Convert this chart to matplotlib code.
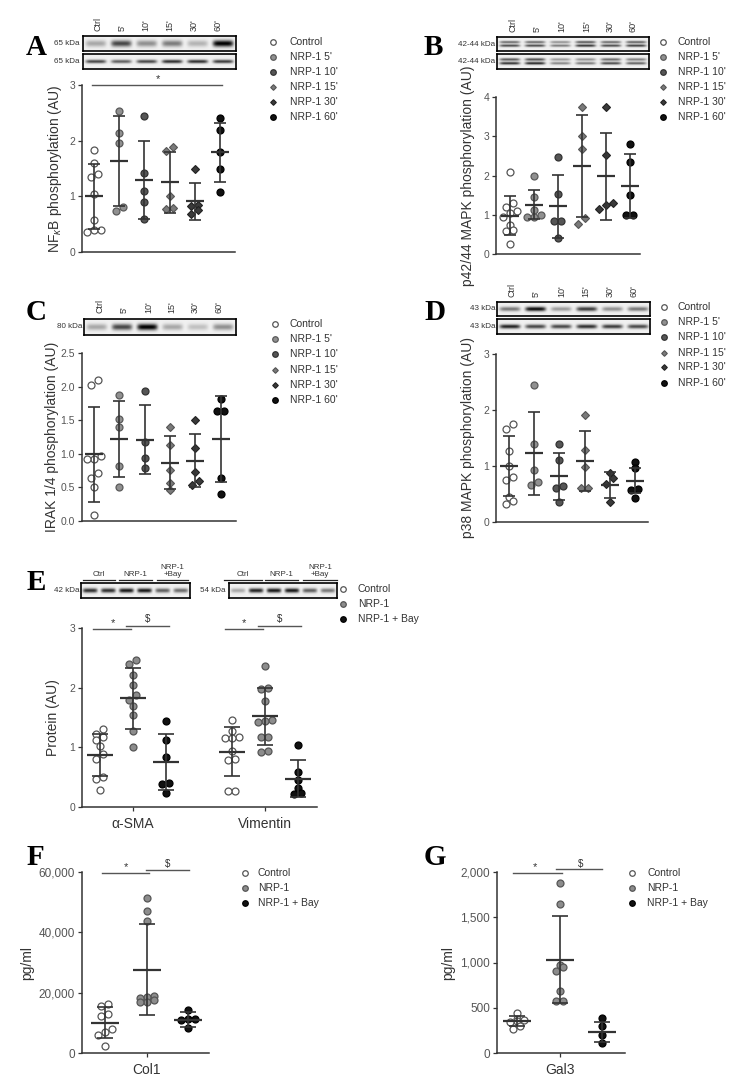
import numpy as np
import matplotlib
matplotlib.use("Agg")
import matplotlib.pyplot as plt
from matplotlib.lines import Line2D

plt.rcParams['font.family'] = ['Liberation Sans', 'DejaVu Sans']
plt.rcParams['mathtext.fontset'] = 'custom'
plt.rcParams['mathtext.rm'] = 'Liberation Sans'
plt.rcParams['mathtext.it'] = 'Liberation Sans:italic'

# ---------------- data ----------------
time_labels = ["Ctrl", "5'", "10'", "15'", "30'", "60'"]
time_legend = ["Control", "NRP-1 5'", "NRP-1 10'", "NRP-1 15'", "NRP-1 30'", "NRP-1 60'"]
treat_legend = ["Control", "NRP-1", "NRP-1 + Bay"]

# A: NFkB
A_ctrl = [1.84, 1.60, 1.40, 1.34, 1.04, 0.58, 0.40, 0.40, 0.36]
A_5 = [2.53, 2.13, 1.95, 0.81, 0.74]
A_10 = [2.44, 1.42, 1.10, 0.90, 0.60]
A_15 = [1.88, 1.82, 1.00, 0.79, 0.78]
A_30 = [1.49, 0.85, 0.82, 0.75, 0.68]
A_60 = [2.40, 2.19, 1.80, 1.49, 1.07]
A_mean = [1.00, 1.63, 1.29, 1.25, 0.91, 1.79]
A_sd = [0.58, 0.81, 0.70, 0.55, 0.33, 0.53]

# B: p42/44
B_ctrl = [2.10, 1.30, 1.20, 1.10, 1.05, 0.95, 0.75, 0.62, 0.58, 0.25]
B_5 = [2.00, 1.45, 1.12, 1.00, 0.95, 0.93]
B_10 = [2.47, 1.52, 0.85, 0.85, 0.42]
B_15 = [3.74, 3.00, 2.68, 0.91, 0.77]
B_30 = [3.74, 2.51, 1.29, 1.25, 1.15]
B_60 = [2.80, 2.35, 1.50, 1.00, 1.00]
B_mean = [0.98, 1.26, 1.22, 2.24, 1.98, 1.73]
B_sd = [0.49, 0.38, 0.80, 1.30, 1.11, 0.81]

# C: IRAK 1/4
C_ctrl = [2.10, 2.02, 0.96, 0.92, 0.92, 0.71, 0.64, 0.50, 0.09]
C_5 = [1.87, 1.52, 1.40, 0.82, 0.51]
C_10 = [1.94, 1.18, 0.94, 0.79]
C_15 = [1.40, 1.13, 0.76, 0.57, 0.46]
C_30 = [1.50, 1.08, 0.73, 0.60, 0.54]
C_60 = [1.81, 1.64, 1.64, 0.64, 0.40]
C_mean = [0.99, 1.22, 1.21, 0.87, 0.90, 1.22]
C_sd = [0.71, 0.56, 0.51, 0.40, 0.40, 0.64]

# D: p38
D_ctrl = [1.75, 1.66, 1.27, 1.00, 0.80, 0.75, 0.44, 0.38, 0.32]
D_5 = [2.45, 1.40, 0.92, 0.72, 0.66]
D_10 = [1.40, 1.11, 0.65, 0.61, 0.35]
D_15 = [1.91, 1.29, 0.99, 0.61, 0.61]
D_30 = [0.87, 0.78, 0.68, 0.35]
D_60 = [1.07, 0.96, 0.59, 0.58, 0.43]
D_mean = [1.00, 1.23, 0.82, 1.09, 0.66, 0.74]
D_sd = [0.53, 0.74, 0.42, 0.53, 0.23, 0.23]

# E: protein
E_categories = ["\u03b1-SMA", "Vimentin"]
E_ctrl_sma = [1.30, 1.22, 1.18, 1.12, 1.02, 0.88, 0.80, 0.50, 0.47, 0.28]
E_nrp_sma = [2.47, 2.39, 2.22, 2.05, 1.88, 1.80, 1.70, 1.54, 1.27, 1.01]
E_bay_sma = [1.44, 1.12, 0.83, 0.41, 0.39, 0.23]
E_ctrl_vim = [1.46, 1.28, 1.18, 1.16, 1.16, 0.94, 0.80, 0.78, 0.26, 0.26]
E_nrp_vim = [2.36, 1.99, 1.98, 1.77, 1.45, 1.44, 1.42, 1.18, 1.17, 0.94, 0.93]
E_bay_vim = [1.04, 0.59, 0.46, 0.32, 0.23, 0.21]
E_mean_sma = [0.87, 1.82, 0.75]
E_sd_sma = [0.35, 0.51, 0.47]
E_mean_vim = [0.93, 1.52, 0.47]
E_sd_vim = [0.41, 0.48, 0.31]

# F: Col1 (pg/ml)
F_ctrl = [16250, 15470, 13040, 12150, 7960, 6960, 6080, 2210]
F_nrp = [51400, 47200, 43900, 18800, 18500, 18200, 17700, 17000, 16800]
F_bay = [14100, 11300, 11200, 11100, 8300]
F_mean = [10100, 27600, 11050]
F_sd = [5000, 15100, 2400]

# G: Gal3 (pg/ml)
G_ctrl = [446, 375, 368, 350, 345, 300, 270]
G_nrp = [1882, 1650, 976, 950, 902, 685, 575, 575]
G_bay = [387, 295, 203, 110]
G_mean = [354, 1031, 232]
G_sd = [51, 483, 110]

# blot band intensities (per lane)
blotA_top = [0.3, 0.7, 0.4, 0.48, 0.25, 1.0]
blotA_bot = [0.7, 0.6, 0.7, 0.8, 0.8, 0.75]
blotB_top = [0.7, 0.7, 0.5, 0.8, 0.7, 0.75]
blotB_bot = [0.8, 0.85, 0.45, 0.5, 0.7, 0.6]
blotC = [0.3, 0.7, 1.0, 0.3, 0.2, 0.4]
blotD_top = [0.5, 0.95, 0.35, 0.75, 0.4, 0.5]
blotD_bot = [0.85, 0.7, 0.7, 0.8, 0.75, 0.7]
blotE_sma = [0.8, 0.8, 0.9, 0.9, 0.6, 0.55]
blotE_vim = [0.3, 0.85, 0.9, 0.9, 0.6, 0.5]

# ---------------- figure helpers ----------------
W, H = 747, 1087
fig = plt.figure(figsize=(W / 100, H / 100), dpi=100)

TXT = '#333333'
LINE = '#333333'


def frect(x0, y0, x1, y1):
    return [x0 / W, 1 - y1 / H, (x1 - x0) / W, (y1 - y0) / H]


def fx(x):
    return x / W


def fy(y):
    return 1 - y / H


ST_TIME = [
    dict(marker='o', mfc='white', mec='#555555', mew=0.9, ms=5),
    dict(marker='o', mfc='#909090', mec='#5a5a5a', mew=0.9, ms=5),
    dict(marker='o', mfc='#555555', mec='#333333', mew=0.9, ms=5),
    dict(marker='D', mfc='#7a7a7a', mec='#555555', mew=0.8, ms=3.6),
    dict(marker='D', mfc='#3a3a3a', mec='#222222', mew=0.8, ms=3.6),
    dict(marker='o', mfc='#111111', mec='#000000', mew=0.9, ms=5),
]
ST_TREAT = [
    dict(marker='o', mfc='white', mec='#555555', mew=0.9, ms=5),
    dict(marker='o', mfc='#8c8c8c', mec='#555555', mew=0.9, ms=5),
    dict(marker='o', mfc='#111111', mec='#000000', mew=0.9, ms=5),
]


def style_axes(ax, xlim, ylim, yticks, ytl, tfs=7.5):
    ax.set_xlim(xlim)
    ax.set_ylim(ylim)
    for s in ['top', 'right']:
        ax.spines[s].set_visible(False)
    for s in ['left', 'bottom']:
        ax.spines[s].set_color(LINE)
        ax.spines[s].set_linewidth(1.1)
    ax.set_yticks(yticks)
    ax.set_yticklabels(ytl)
    ax.tick_params(axis='y', length=3, width=0.9, color=LINE, labelsize=tfs,
                   labelcolor='#555555', pad=2)
    ax.set_xticks([])
    ax.patch.set_alpha(0)


def ppu_x(ax):
    t = ax.transData
    return t.transform((1, 0))[0] - t.transform((0, 0))[0]


def swarm_x(ax, xc, vals, diam=7.0, max_row=3):
    t = ax.transData
    ypx = np.array([t.transform((xc, v))[1] for v in vals])
    order = np.argsort(ypx)
    offs = np.zeros(len(vals))
    clusters, cur = [], []
    for i in order:
        if cur and (ypx[i] - ypx[cur[0]] >= 0.85 * diam or len(cur) >= max_row):
            clusters.append(cur)
            cur = []
        cur.append(i)
    if cur:
        clusters.append(cur)
    for cl in clusters:
        n = len(cl)
        for k, i in enumerate(cl):
            offs[i] = (k - (n - 1) / 2) * diam
    return xc + offs / ppu_x(ax)


def draw_group(ax, xc, vals, mean, sd, st, mean_hw=9, cap_hw=6):
    xs = swarm_x(ax, xc, vals)
    ax.plot(xs, vals, ls='none', clip_on=False, zorder=3, **st)
    p = ppu_x(ax)
    kw = dict(color=LINE, lw=1.2, zorder=4, solid_capstyle='butt', clip_on=False)
    ax.plot([xc, xc], [mean - sd, mean + sd], **kw)
    ax.plot([xc - cap_hw / p, xc + cap_hw / p], [mean + sd] * 2, **kw)
    ax.plot([xc - cap_hw / p, xc + cap_hw / p], [mean - sd] * 2, **kw)
    ax.plot([xc - mean_hw / p, xc + mean_hw / p], [mean] * 2,
            color=LINE, lw=1.6, zorder=4, solid_capstyle='butt', clip_on=False)


def legend(x_mk, x_txt, ys, labels, styles, fs=7.5):
    for y, lab, st in zip(ys, labels, styles):
        s = dict(st)
        s['ms'] = st['ms'] * 0.8
        fig.add_artist(Line2D([fx(x_mk)], [fy(y)], transform=fig.transFigure,
                              ls='none', **s))
        fig.text(fx(x_txt), fy(y), lab, fontsize=fs, va='center', ha='left', color=TXT)


def blot(x0, y0, x1, y1, lanes, double=False, bh=0.16):
    ax = fig.add_axes(frect(x0, y0, x1, y1))
    n = len(lanes)
    yy = np.linspace(0, 1, 40)[:, None]
    xx = np.linspace(0, 1, 400)[None, :]
    img = np.full((40, 400), 0.06)
    for i, inten in enumerate(lanes):
        cx = (i + 0.5) / n
        lane = np.exp(-((xx - cx) / (0.40 / n)) ** 6)
        if double:
            band = 0.8 * np.exp(-((yy - 0.36) / 0.09) ** 2) + np.exp(-((yy - 0.62) / 0.09) ** 2)
        else:
            band = np.exp(-((yy - 0.5) / bh) ** 2)
        img += inten * lane * band
    ax.imshow(img, cmap='gray_r', vmin=0, vmax=1.05, extent=(0, 1, 0, 1),
              aspect='auto', interpolation='bilinear')
    ax.set_xticks([])
    ax.set_yticks([])
    for s in ax.spines.values():
        s.set_color('black')
        s.set_linewidth(1.2)
    return ax


def kda(x, y, txt):
    fig.text(fx(x), fy(y), txt, fontsize=5.8, ha='right', va='center', color=TXT)


def lane_labels(xs, ybot, labels):
    for x, lab in zip(xs, labels):
        fig.text(fx(x), fy(ybot), lab, fontsize=6.5, rotation=90, ha='center',
                 va='bottom', color=TXT)


def panel_letter(x, y, letter):
    fig.text(fx(x), fy(y), letter, fontsize=21, fontweight='bold',
             family=['Liberation Serif', 'DejaVu Serif'], ha='left', va='baseline')


def ylabel(x, y, txt, fs=10):
    fig.text(fx(x), fy(y), txt, fontsize=fs, rotation=90, ha='center', va='center', color=TXT)


# ---------------- Panel A ----------------
panel_letter(26, 55, 'A')
blot(83, 36, 236, 51, blotA_top, bh=0.22)
blot(83, 54, 236, 69, blotA_bot, bh=0.12)
kda(80, 43.5, '65 kDa')
kda(80, 61.5, '65 kDa')
lane_labels([98, 122, 146, 170, 194, 218], 31, time_labels)
axA = fig.add_axes(frect(82, 85, 235, 252))
style_axes(axA, (-0.48, 5.6), (0, 3), [0, 1, 2, 3], ['0', '1', '2', '3'])
for i, vals in enumerate([A_ctrl, A_5, A_10, A_15, A_30, A_60]):
    draw_group(axA, i, vals, A_mean[i], A_sd[i], ST_TIME[i])
axA.plot([-0.08, 5.08], [3, 3], color='#555555', lw=1.0, clip_on=False)
axA.text(2.54, 3.01, '*', ha='center', va='bottom', fontsize=8, color=TXT)
ylabel(55, 169, r'NF$_{\kappa}$B phosphorylation (AU)')
legend(273, 290, [42, 57, 72, 87, 102, 117], time_legend, ST_TIME)

# ---------------- Panel B ----------------
panel_letter(424, 55, 'B')
blot(497, 37, 649, 51, blotB_top, double=True)
blot(497, 54, 649, 69, blotB_bot, double=True)
kda(495, 44, '42-44 kDa')
kda(495, 61.5, '42-44 kDa')
lane_labels([513, 537, 562, 587, 610, 633], 32, time_labels)
axB = fig.add_axes(frect(496, 97, 640, 254))
style_axes(axB, (-0.58, 5.42), (0, 4), [0, 1, 2, 3, 4], ['0', '1', '2', '3', '4'])
for i, vals in enumerate([B_ctrl, B_5, B_10, B_15, B_30, B_60]):
    draw_group(axB, i, vals, B_mean[i], B_sd[i], ST_TIME[i])
ylabel(468, 176, 'p42/44 MAPK phosphorylation (AU)')
legend(663, 678, [42, 57, 72, 87, 102, 117], time_legend, ST_TIME)

# ---------------- Panel C ----------------
panel_letter(26, 320, 'C')
blot(84, 319, 236, 335, blotC, bh=0.2)
kda(82, 327, '80 kDa')
lane_labels([100, 124, 149, 172, 195, 219], 313, time_labels)
axC = fig.add_axes(frect(82, 353, 236, 521))
style_axes(axC, (-0.48, 5.6), (0, 2.5), [0, 0.5, 1.0, 1.5, 2.0, 2.5],
           ['0.0', '0.5', '1.0', '1.5', '2.0', '2.5'])
for i, vals in enumerate([C_ctrl, C_5, C_10, C_15, C_30, C_60]):
    draw_group(axC, i, vals, C_mean[i], C_sd[i], ST_TIME[i])
ylabel(52, 437, 'IRAK 1/4 phosphorylation (AU)')
legend(275, 290, [324, 339, 354, 370, 385, 400], time_legend, ST_TIME)

# ---------------- Panel D ----------------
panel_letter(424, 320, 'D')
blot(497, 302, 650, 316, blotD_top, bh=0.16)
blot(497, 319, 650, 334, blotD_bot, bh=0.14)
kda(495, 309, '43 kDa')
kda(495, 326.5, '43 kDa')
lane_labels([512, 536, 562, 586, 610, 634], 297, time_labels)
axD = fig.add_axes(frect(496, 354, 648, 522))
style_axes(axD, (-0.52, 5.52), (0, 3), [0, 1, 2, 3], ['0', '1', '2', '3'])
for i, vals in enumerate([D_ctrl, D_5, D_10, D_15, D_30, D_60]):
    draw_group(axD, i, vals, D_mean[i], D_sd[i], ST_TIME[i])
ylabel(468, 438, 'p38 MAPK phosphorylation (AU)')
legend(664, 678, [307, 322, 337, 353, 367, 383], time_legend, ST_TIME)

# ---------------- Panel E ----------------
panel_letter(27, 590, 'E')
blot(81, 583, 190, 598, blotE_sma, bh=0.15)
blot(229, 583, 337, 598, blotE_vim, bh=0.15)
kda(80, 590.5, '42 kDa')
kda(226, 590.5, '54 kDa')
for (cx, x0, x1), lab in zip([(99, 83, 115), (135.5, 119, 152), (172.5, 157, 188),
                               (243, 224, 262), (281.5, 265, 298), (320, 303, 337)],
                              ["Ctrl", "NRP-1", "NRP-1\n+Bay"] * 2):
    fig.add_artist(Line2D([fx(x0), fx(x1)], [fy(580), fy(580)], transform=fig.transFigure,
                          color='#222222', lw=0.9))
    fig.text(fx(cx), fy(578), lab, fontsize=5.8, ha='center', va='bottom',
             color=TXT, linespacing=1.0)
axE = fig.add_axes(frect(82, 628, 317, 807))
style_axes(axE, (-0.545, 6.58), (0, 3), [0, 1, 2, 3], ['0', '1', '2', '3'])
E_pos = [[0, 1, 2], [4, 5, 6]]
E_vals = [[E_ctrl_sma, E_nrp_sma, E_bay_sma], [E_ctrl_vim, E_nrp_vim, E_bay_vim]]
E_means = [E_mean_sma, E_mean_vim]
E_sds = [E_sd_sma, E_sd_vim]
for g in range(2):
    for j in range(3):
        draw_group(axE, E_pos[g][j], E_vals[g][j], E_means[g][j], E_sds[g][j],
                   ST_TREAT[j], mean_hw=13, cap_hw=8)
    p0, p1, p2 = E_pos[g]
    axE.plot([p0 - 0.22, p1 - 0.05], [2.99, 2.99], color='#555555', lw=1.0, clip_on=False)
    axE.plot([p1 - 0.2, p2 + 0.08], [3.04, 3.04], color='#555555', lw=1.0, clip_on=False)
    axE.text((p0 + p1) / 2 - 0.12, 3.0, '*', ha='center', va='bottom', fontsize=8, color=TXT)
    axE.text((p1 + p2) / 2 - 0.05, 3.06, '$', ha='center', va='bottom', fontsize=7, color=TXT)
axE.set_xticks([E_pos[0][1], E_pos[1][1]])
axE.set_xticklabels(E_categories)
axE.tick_params(axis='x', length=3, width=0.9, color=LINE, labelsize=10,
                labelcolor=TXT, pad=4)
ylabel(53, 718, 'Protein (AU)')
legend(343, 358, [589, 604, 619], treat_legend, ST_TREAT)

# ---------------- Panel F ----------------
panel_letter(27, 865, 'F')
axF = fig.add_axes(frect(82, 872, 209, 1053))
style_axes(axF, (-0.55, 2.5), (0, 60000), [0, 20000, 40000, 60000],
           ['0', '20,000', '40,000', '60,000'], tfs=8.5)
for j, vals in enumerate([F_ctrl, F_nrp, F_bay]):
    draw_group(axF, j, vals, F_mean[j], F_sd[j], ST_TREAT[j], mean_hw=14, cap_hw=8)
axF.plot([-0.07, 1.06], [59700, 59700], color='#555555', lw=1.0, clip_on=False)
axF.plot([0.99, 2.02], [60650, 60650], color='#555555', lw=1.0, clip_on=False)
axF.text(0.5, 59900, '*', ha='center', va='bottom', fontsize=8, color=TXT)
axF.text(1.5, 60900, '$', ha='center', va='bottom', fontsize=7, color=TXT)
axF.set_xticks([1])
axF.set_xticklabels(['Col1'])
axF.tick_params(axis='x', length=3, width=0.9, color=LINE, labelsize=10,
                labelcolor=TXT, pad=4)
ylabel(27, 963, 'pg/ml')
legend(245, 258, [873, 888, 903], treat_legend, ST_TREAT)

# ---------------- Panel G ----------------
panel_letter(424, 865, 'G')
axG = fig.add_axes(frect(497, 872, 625, 1053))
style_axes(axG, (-0.47, 2.54), (0, 2000), [0, 500, 1000, 1500, 2000],
           ['0', '500', '1,000', '1,500', '2,000'], tfs=8.5)
for j, vals in enumerate([G_ctrl, G_nrp, G_bay]):
    draw_group(axG, j, vals, G_mean[j], G_sd[j], ST_TREAT[j], mean_hw=14, cap_hw=8)
axG.plot([-0.09, 1.06], [1992, 1992], color='#555555', lw=1.0, clip_on=False)
axG.plot([0.92, 2.0], [2030, 2030], color='#555555', lw=1.0, clip_on=False)
axG.text(0.42, 1998, '*', ha='center', va='bottom', fontsize=8, color=TXT)
axG.text(1.5, 2038, '$', ha='center', va='bottom', fontsize=7, color=TXT)
axG.set_xticks([1])
axG.set_xticklabels(['Gal3'])
axG.tick_params(axis='x', length=3, width=0.9, color=LINE, labelsize=10,
                labelcolor=TXT, pad=4)
ylabel(448, 963, 'pg/ml')
legend(632, 647, [873, 888, 903], treat_legend, ST_TREAT)

fig.savefig('out.png', dpi=100)
